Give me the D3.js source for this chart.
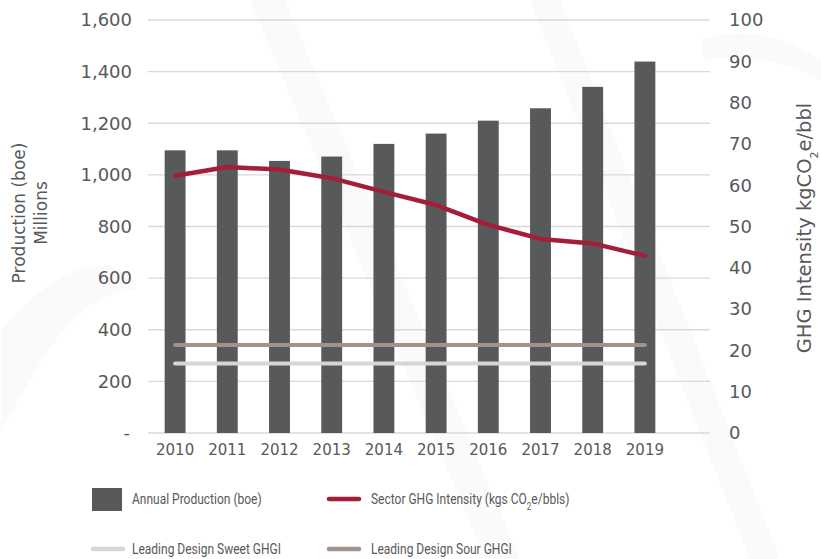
<!DOCTYPE html>
<html lang="en">
<head>
  <meta charset="UTF-8">
  <title>Production and GHG intensity</title>
  <script src="https://d3js.org/d3.v7.min.js"></script>
  <style>
    body { margin: 0; background: #fff; }
    svg { display: block; }
    .tick-label { font-family: "DejaVu Sans", sans-serif; font-size: 18px; fill: #58595b; }
    .axis-title { font-family: "DejaVu Sans", sans-serif; font-size: 17px; fill: #58595b; }
    .legend-text { font-family: "Roboto", sans-serif; font-size: 15px; fill: #58595b; }
    .grid { stroke: #d9d9d9; stroke-width: 1.3px; }
  </style>
</head>
<body>
<svg width="821" height="559"></svg>
<script>
  // data
  var years = ["2010", "2011", "2012", "2013", "2014", "2015", "2016", "2017", "2018", "2019"];
  var production = [1095, 1095, 1054, 1071, 1120, 1160, 1210, 1258, 1341, 1439];
  var intensity = [62.3, 64.4, 63.8, 61.7, 58.4, 55.2, 50.4, 47.0, 45.9, 42.9];
  var sweetGHGI = [16.8, 16.8, 16.8, 16.8, 16.8, 16.8, 16.8, 16.8, 16.8, 16.8];
  var sourGHGI = [21.3, 21.3, 21.3, 21.3, 21.3, 21.3, 21.3, 21.3, 21.3, 21.3];
  var leftTicks = [0, 200, 400, 600, 800, 1000, 1200, 1400, 1600];
  var rightTicks = [0, 10, 20, 30, 40, 50, 60, 70, 80, 90, 100];

  var colBar = "#58595b", colRed = "#a31f37", colSour = "#9f938c", colSweet = "#d5d6d8";

  var svg = d3.select("svg");

  // very faint background watermark
  var wm = svg.append("g").attr("fill", "#fafafa");
  wm.append("path").attr("d", "M250,0 L285,0 L520,559 L485,559 Z");
  wm.append("path").attr("d", "M530,0 L560,0 L780,559 L750,559 Z");
  wm.append("path").attr("d", "M1,330 Q70,250 125,270 L135,290 Q80,290 30,380 L1,430 Z");
  wm.append("path").attr("d", "M700,40 Q760,20 821,60 L821,80 Q760,50 705,60 Z");

  var x = d3.scaleBand().domain(years).range([149, 671]).paddingInner(0.6).paddingOuter(0.3);
  var yL = d3.scaleLinear().domain([0, 1600]).range([433, 20]);
  var yR = d3.scaleLinear().domain([0, 100]).range([433, 20]);

  // gridlines
  svg.append("g").selectAll("line").data(leftTicks).join("line")
    .attr("class", "grid")
    .attr("x1", 148).attr("x2", 710)
    .attr("y1", d => yL(d)).attr("y2", d => yL(d));

  // left axis labels
  var fmt = d3.format(",");
  svg.append("g").selectAll("text").data(leftTicks).join("text")
    .attr("class", "tick-label")
    .attr("x", d => d === 0 ? 130 : 132)
    .attr("y", d => yL(d))
    .attr("dy", "0.35em")
    .attr("text-anchor", "end")
    .text(d => d === 0 ? "-" : fmt(d));

  // right axis labels
  svg.append("g").selectAll("text").data(rightTicks).join("text")
    .attr("class", "tick-label")
    .attr("x", 729)
    .attr("y", d => yR(d))
    .attr("dy", "0.35em")
    .text(d => d);

  // x labels
  svg.append("g").selectAll("text").data(years).join("text")
    .attr("class", "tick-label")
    .attr("x", d => x(d) + x.bandwidth() / 2)
    .attr("y", 450)
    .attr("dy", "0.35em")
    .attr("text-anchor", "middle")
    .style("font-size", "15px")
    .text(d => d);

  // bars
  svg.append("g").selectAll("rect").data(production).join("rect")
    .attr("x", (d, i) => x(years[i]))
    .attr("width", x.bandwidth())
    .attr("y", d => yL(d))
    .attr("height", d => yL(0) - yL(d))
    .attr("fill", colBar);

  var cx = (d, i) => x(years[i]) + x.bandwidth() / 2;

  function drawLine(values, color, width) {
    svg.append("path")
      .attr("d", d3.line().x(cx).y(d => yR(d))(values))
      .attr("fill", "none")
      .attr("stroke", color)
      .attr("stroke-width", width)
      .attr("stroke-linecap", "round")
      .attr("stroke-linejoin", "round");
  }
  drawLine(sourGHGI, colSour, 4);
  drawLine(sweetGHGI, colSweet, 4);
  drawLine(intensity, colRed, 4.5);

  // axis titles
  var lt = svg.append("text").attr("class", "axis-title")
    .attr("transform", "translate(25,213) rotate(-90)")
    .attr("text-anchor", "middle");
  lt.append("tspan").attr("x", 0).attr("dy", 0).text("Production (boe)");
  lt.append("tspan").attr("x", 0).attr("dy", "1.3em").text("Millions");

  var rt = svg.append("text").attr("class", "axis-title")
    .attr("transform", "translate(811,228) rotate(-90)")
    .attr("text-anchor", "middle")
    .style("font-size", "19.5px");
  rt.append("tspan").text("GHG Intensity kgCO");
  rt.append("tspan").attr("baseline-shift", "sub").style("font-size", "11px").text("2");
  rt.append("tspan").text("e/bbl");

  // legend
  var lg = svg.append("g");
  lg.append("rect").attr("x", 92).attr("y", 488).attr("width", 30).attr("height", 23).attr("fill", colBar);

  var swatches = [
    { x: 329, y: 499, color: colRed },
    { x: 93, y: 549, color: colSweet },
    { x: 329, y: 549, color: colSour }
  ];
  lg.selectAll("line.sw").data(swatches).join("line")
    .attr("x1", d => d.x).attr("x2", d => d.x + 30)
    .attr("y1", d => d.y).attr("y2", d => d.y)
    .attr("stroke", d => d.color)
    .attr("stroke-width", 4.5)
    .attr("stroke-linecap", "round");

  // legend labels, squeezed a bit to mimic the narrow face of the original
  function legendLabel(px, py) {
    return lg.append("text").attr("class", "legend-text")
      .attr("transform", "translate(" + px + "," + py + ") scale(0.8,1)")
      .attr("dy", "0.35em");
  }
  legendLabel(132, 499).text("Annual Production (boe)");
  var st = legendLabel(371, 499);
  st.append("tspan").text("Sector GHG Intensity (kgs CO");
  st.append("tspan").attr("baseline-shift", "sub").style("font-size", "10px").text("2");
  st.append("tspan").text("e/bbls)");
  legendLabel(132, 549).text("Leading Design Sweet GHGI");
  legendLabel(371, 549).text("Leading Design Sour GHGI");
</script>
</body>
</html>
